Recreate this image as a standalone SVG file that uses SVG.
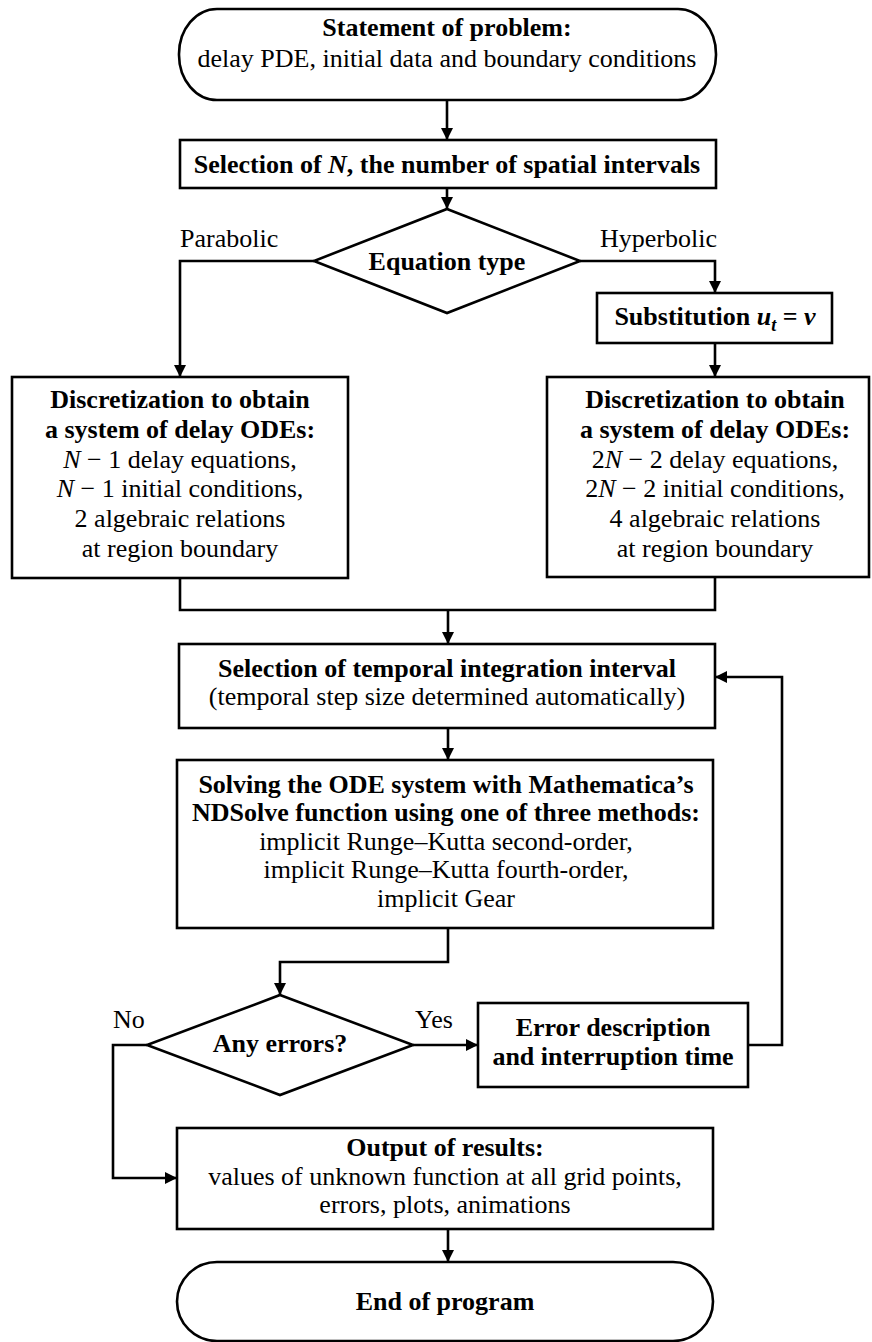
<svg xmlns="http://www.w3.org/2000/svg" width="872" height="1342" viewBox="0 0 872 1342">
<style>
.shape{fill:#fff;stroke:#000;stroke-width:2.6}
.conn{fill:none;stroke:#000;stroke-width:2.6}
text{font-family:"Liberation Serif","Times New Roman",serif;font-size:26px;text-anchor:middle;fill:#000}
.b{font-weight:bold}
.lbl{text-anchor:start}
.i{font-style:italic}
</style>
<defs>
<marker id="arr" viewBox="0 0 10 10" refX="10" refY="5" markerUnits="userSpaceOnUse" markerWidth="12" markerHeight="12" orient="auto">
<path d="M0,0 L10,5 L0,10 z" fill="#000"/>
</marker>
</defs>
<g id="connectors">
<path class="conn" d="M447,100 V140" marker-end="url(#arr)"/>
<path class="conn" d="M447,188 V209" marker-end="url(#arr)"/>
<path class="conn" d="M314,261 H180 V377" marker-end="url(#arr)"/>
<path class="conn" d="M580,261 H715 V293" marker-end="url(#arr)"/>
<path class="conn" d="M715,343 V377" marker-end="url(#arr)"/>
<path class="conn" d="M180,578 V610 H715 V578"/>
<path class="conn" d="M448,610 V644" marker-end="url(#arr)"/>
<path class="conn" d="M448,728 V760" marker-end="url(#arr)"/>
<path class="conn" d="M448,928 V962 H280 V995" marker-end="url(#arr)"/>
<path class="conn" d="M413,1045 H478" marker-end="url(#arr)"/>
<path class="conn" d="M748,1045 H782 V677 H715" marker-end="url(#arr)"/>
<path class="conn" d="M147,1045 H113 V1178 H177" marker-end="url(#arr)"/>
<path class="conn" d="M448,1229 V1262" marker-end="url(#arr)"/>
<text class="lbl" x="180" y="247">Parabolic</text>
<text class="lbl" x="600" y="247">Hyperbolic</text>
<text class="lbl" x="113" y="1028">No</text>
<text class="lbl" x="415" y="1028">Yes</text>
</g>
<g id="start">
<rect class="shape" x="179" y="9" width="537" height="91" rx="38" ry="45"/>
<text class="b" x="447" y="36">Statement of problem:</text>
<text x="447" y="67">delay PDE, initial data and boundary conditions</text>
</g>
<g id="selectN">
<rect class="shape" x="180" y="140" width="536" height="48"/>
<text class="b" x="447" y="173">Selection of <tspan class="i">N</tspan>, the number of spatial intervals</text>
</g>
<g id="eqtype">
<polygon class="shape" points="447,209 580,261 447,313 314,261"/>
<text class="b" x="447" y="270">Equation type</text>
</g>
<g id="subst">
<rect class="shape" x="597" y="293" width="235" height="50"/>
<text class="b" x="715" y="325">Substitution <tspan class="i">u</tspan><tspan class="i" font-size="18" dy="6">t</tspan><tspan dy="-6"> = </tspan><tspan class="i">v</tspan></text>
</g>
<g id="discLeft">
<rect class="shape" x="12" y="377" width="336" height="201"/>
<text class="b" x="180" y="408">Discretization to obtain</text>
<text class="b" x="180" y="438">a system of delay ODEs:</text>
<text x="180" y="468"><tspan class="i">N</tspan> − 1 delay equations,</text>
<text x="180" y="497"><tspan class="i">N</tspan> − 1 initial conditions,</text>
<text x="180" y="527">2 algebraic relations</text>
<text x="180" y="557">at region boundary</text>
</g>
<g id="discRight">
<rect class="shape" x="547" y="377" width="322" height="200"/>
<text class="b" x="715" y="408">Discretization to obtain</text>
<text class="b" x="715" y="438">a system of delay ODEs:</text>
<text x="715" y="468">2<tspan class="i">N</tspan> − 2 delay equations,</text>
<text x="715" y="497">2<tspan class="i">N</tspan> − 2 initial conditions,</text>
<text x="715" y="527">4 algebraic relations</text>
<text x="715" y="557">at region boundary</text>
</g>
<g id="selectT">
<rect class="shape" x="179" y="644" width="536" height="84"/>
<text class="b" x="447" y="677">Selection of temporal integration interval</text>
<text x="447" y="705">(temporal step size determined automatically)</text>
</g>
<g id="solve">
<rect class="shape" x="177" y="760" width="536" height="168"/>
<text class="b" x="446" y="793">Solving the ODE system with Mathematica’s</text>
<text class="b" x="446" y="821">NDSolve function using one of three methods:</text>
<text x="446" y="850">implicit Runge–Kutta second-order,</text>
<text x="446" y="878">implicit Runge–Kutta fourth-order,</text>
<text x="446" y="907">implicit Gear</text>
</g>
<g id="anyErr">
<polygon class="shape" points="280,995 413,1045 280,1095 147,1045"/>
<text class="b" x="280" y="1052">Any errors?</text>
</g>
<g id="errDesc">
<rect class="shape" x="478" y="1003" width="270" height="84"/>
<text class="b" x="613" y="1036">Error description</text>
<text class="b" x="613" y="1065">and interruption time</text>
</g>
<g id="output">
<rect class="shape" x="177" y="1128" width="536" height="101"/>
<text class="b" x="445" y="1156">Output of results:</text>
<text x="445" y="1185">values of unknown function at all grid points,</text>
<text x="445" y="1213">errors, plots, animations</text>
</g>
<g id="end">
<rect class="shape" x="177" y="1262" width="536" height="79" rx="40" ry="40"/>
<text class="b" x="445" y="1310">End of program</text>
</g>
</svg>
